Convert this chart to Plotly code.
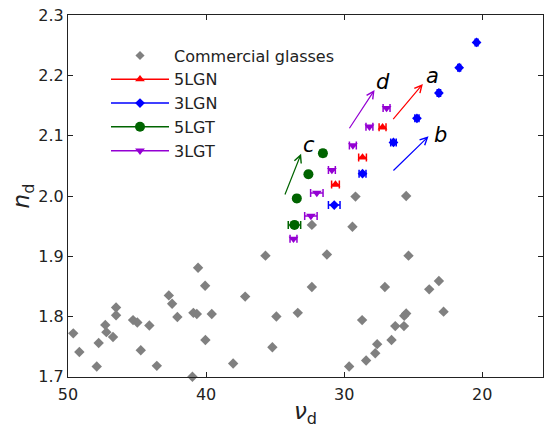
import plotly.graph_objects as go

# Commercial glasses
com_vd = [49.62, 49.18, 48.09, 47.92, 47.78, 47.30, 47.22, 46.74, 46.52, 46.52,
          45.29, 44.98, 44.73, 44.11, 43.57, 42.70, 42.46, 42.08, 40.99, 40.92,
          40.67, 40.58, 40.07, 40.05, 39.59, 38.04, 37.17, 35.70, 35.20, 34.91,
          33.36, 32.34, 32.34, 31.25, 29.64, 29.40, 29.18, 28.70, 28.41, 27.75,
          27.61, 27.05, 26.57, 26.30, 25.67, 25.51, 25.65, 25.34, 23.84, 23.14,
          22.80, 25.51]
com_nd = [1.772, 1.741, 1.699, 1.717, 1.756, 1.786, 1.774, 1.766, 1.815, 1.802,
          1.794, 1.790, 1.744, 1.785, 1.718, 1.835, 1.821, 1.799, 1.700, 1.806,
          1.804, 1.881, 1.851, 1.761, 1.804, 1.722, 1.833, 1.901, 1.749, 1.800,
          1.806, 1.952, 1.849, 1.903, 1.717, 1.949, 1.999, 1.794, 1.727, 1.739,
          1.754, 1.849, 1.761, 1.784, 1.784, 1.805, 1.801, 1.901, 1.845, 1.859,
          1.808, 2.000]

# 5LGN
lgn5_vd = [27.22, 28.67, 30.63]
lgn5_nd = [2.114, 2.064, 2.019]
lgn5_err = [0.25, 0.28, 0.28]

# 3LGN
lgn3_vd = [20.41, 21.67, 23.14, 24.73, 26.43, 28.67, 30.72]
lgn3_nd = [2.255, 2.213, 2.171, 2.129, 2.089, 2.037, 1.985]
lgn3_err = [0.1, 0.1, 0.12, 0.15, 0.2, 0.25, 0.42]

# 5LGT
lgt5_vd = [31.54, 32.59, 33.43, 33.60]
lgt5_nd = [2.071, 2.036, 1.996, 1.952]
lgt5_err = [0.2, 0.15, 0.15, 0.45]

# 3LGT
lgt3_vd = [26.93, 28.17, 29.37, 30.89, 31.98, 32.41, 33.67]
lgt3_nd = [2.146, 2.115, 2.084, 2.043, 2.005, 1.967, 1.929]
lgt3_err = [0.25, 0.25, 0.25, 0.25, 0.45, 0.45, 0.25]

# Arrows
arrow_labels = ["a", "b", "c", "d"]
arrow_tail_x = [26.54, 26.54, 34.33, 29.69]
arrow_tail_y = [2.125, 2.040, 2.000, 2.110]
arrow_head_x = [24.30, 23.89, 33.12, 27.80]
arrow_head_y = [2.186, 2.099, 2.070, 2.176]
label_x = [23.57, 23.04, 32.56, 27.22]
label_y = [2.200, 2.102, 2.085, 2.190]

GRAY = "#808080"
RED = "#ff0000"
BLUE = "#0000ff"
GREEN = "#006400"
PURPLE = "#9400d3"
arrow_colors = [RED, BLUE, GREEN, PURPLE]

FONT = "'DejaVu Sans', Arial, sans-serif"

fig = go.Figure()

fig.add_trace(go.Scatter(x=com_vd, y=com_nd, mode="markers", name="Commercial glasses",
                         marker=dict(symbol="diamond", size=8, color=GRAY),
                         cliponaxis=False, showlegend=False))

series = [
    ("5LGN", lgn5_vd, lgn5_nd, lgn5_err, RED, "triangle-up", 8.5),
    ("3LGN", lgn3_vd, lgn3_nd, lgn3_err, BLUE, "diamond", 7.5),
    ("5LGT", lgt5_vd, lgt5_nd, lgt5_err, GREEN, "circle", 10),
    ("3LGT", lgt3_vd, lgt3_nd, lgt3_err, PURPLE, "triangle-down", 8.5),
]
for name, xs, ys, es, col, sym, sz in series:
    fig.add_trace(go.Scatter(x=xs, y=ys, mode="markers", name=name,
                             marker=dict(symbol=sym, size=sz, color=col),
                             error_x=dict(type="data", array=es, visible=True,
                                          color=col, thickness=1.5, width=4),
                             showlegend=False))

# Legend entries
fig.add_trace(go.Scatter(x=[None], y=[None], mode="markers", name="Commercial glasses",
                         marker=dict(symbol="diamond", size=7, color=GRAY)))
for name, xs, ys, es, col, sym, sz in series:
    fig.add_trace(go.Scatter(x=[None], y=[None], mode="lines+markers", name=name,
                             line=dict(color=col, width=1.5),
                             marker=dict(symbol=sym, size=sz, color=col)))

for i in range(len(arrow_labels)):
    fig.add_annotation(x=arrow_head_x[i], y=arrow_head_y[i],
                       ax=arrow_tail_x[i], ay=arrow_tail_y[i],
                       xref="x", yref="y", axref="x", ayref="y",
                       showarrow=True, arrowhead=5, arrowsize=1.2, arrowwidth=1.2,
                       arrowcolor=arrow_colors[i], text="")
    fig.add_annotation(x=label_x[i], y=label_y[i], xref="x", yref="y",
                       text="<i>" + arrow_labels[i] + "</i>", showarrow=False,
                       font=dict(family=FONT, size=21, color="black"))

axis_common = dict(showline=True, linecolor="#222222", linewidth=1, mirror="ticks",
                   ticks="inside", ticklen=5, tickcolor="#222222", showgrid=False,
                   zeroline=False, tickfont=dict(family=FONT, size=16, color="#222222"))

fig.update_layout(
    width=548, height=428,
    margin=dict(l=68, r=5, t=15, b=51),
    plot_bgcolor="white", paper_bgcolor="white",
    font=dict(family=FONT),
    xaxis=dict(range=[50.001, 15.6], tickvals=[50, 40, 30, 20],
               ticklabelstandoff=3,
               title=dict(text="<i>ν</i><sub>d</sub>", font=dict(family=FONT, size=23, color="#222222"),
                          standoff=0),
               **axis_common),
    yaxis=dict(range=[1.6995, 2.3005], tickvals=[1.7, 1.8, 1.9, 2.0, 2.1, 2.2, 2.3],
               tickformat=".1f",
               title=dict(text="<i>n</i><sub>d</sub>", font=dict(family=FONT, size=23, color="#222222"),
                          standoff=2),
               **axis_common),
    legend=dict(x=0.08, y=0.935, xanchor="left", yanchor="top",
                bgcolor="rgba(0,0,0,0)", font=dict(family=FONT, size=16, color="#222222"),
                itemwidth=58, tracegroupgap=0),
)

fig.write_html("out.html")
